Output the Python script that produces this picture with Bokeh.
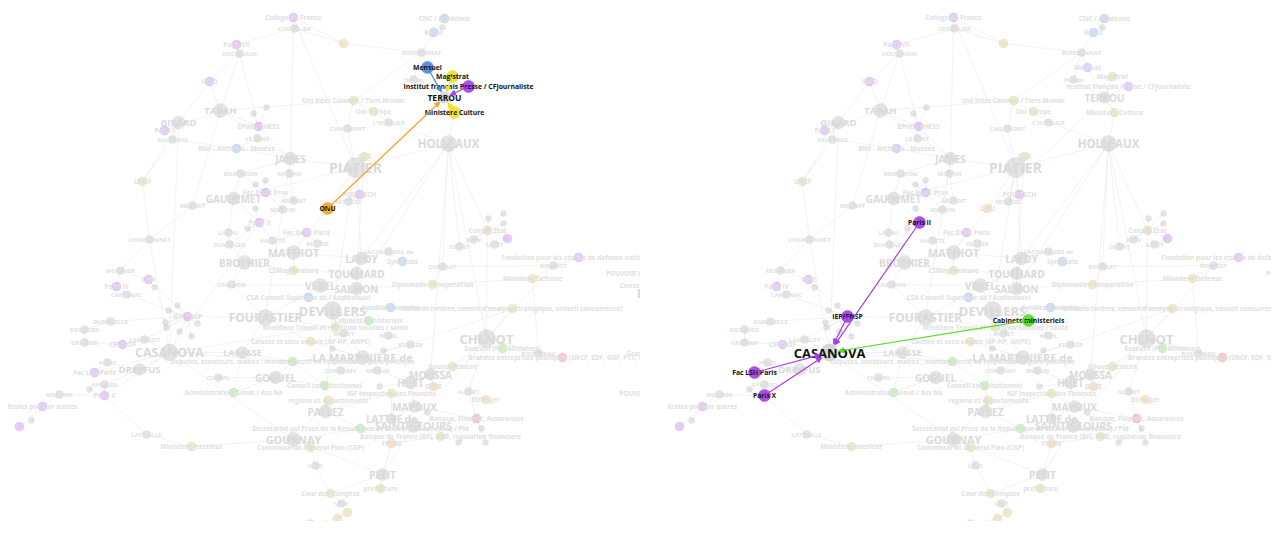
from bokeh.plotting import figure
from bokeh.layouts import row
from bokeh.models import ColumnDataSource, Range1d, Arrow, NormalHead
from bokeh.core.properties import value
from bokeh.embed import file_html
from bokeh.resources import INLINE

# ---------------- data: network layout (layout units) ----------------
big_people = ["TABAH", "GIRARD", "JAMES", "GAUDEMET", "MATHIOT", "BROCHIER", "PIATIER", "HOLLEAUX",
              "TERROU", "LALOY", "TOUCHARD", "VEDEL", "SALMON", "FOURASTIER", "DEVILLERS", "CASANOVA",
              "DREYFUS", "LABASSE", "GOGUEL", "LA MARTINIERE de", "CHENOT", "MOUSSA", "HUET", "PALLEZ",
              "MAYOUX", "LATTRE de", "SAINT-GEOURS", "GOURNAY", "PETIT"]
big_people_x = [220, 178, 290, 233, 293, 244, 355, 448, 444, 361, 356, 320, 356, 265, 332, 169,
                139, 242, 275, 362, 486, 430, 410, 325, 414, 391, 413, 293, 382]
big_people_y = [110, 122, 158, 198, 252, 262, 167, 143, 97, 258, 273, 285, 288, 317, 310, 352,
                369, 352, 377, 357, 338, 374, 382, 411, 406, 418, 425, 439, 474]
big_people_size = [14, 13, 13, 13, 14, 14, 20, 16, 11, 13, 13, 14, 13, 16, 18, 17,
                   12, 12, 13, 14, 18, 12, 13, 13, 12, 10, 14, 14, 12]
big_people_font = [9.5, 9.5, 10, 10, 11, 10, 14, 11.5, 10, 10, 10, 10, 10, 12, 13, 12.5,
                   9.5, 9, 10, 11, 13, 10, 10, 10, 10, 10, 10.5, 11, 10]

minor_people = ["CHEVALIER", "HOCQUAUX", "SAUVERAS", "LE GOFF", "MERCERON", "MOUAN", "MEYNAT", "ARDANT",
                "MAURIN", "LAVAU", "DUVERGER", "VALETTE", "REUTER", "CHARDONNET", "MONNIER", "CARSENAC",
                "DUROSELLE", "SIEGFRIED", "GROSSER", "LANCELOT", "PINET", "AYMARD", "MESNIER", "LATREILLE",
                "CHATAL", "GREMION", "BOISSONNAT", "Hebdo", "L'HUILLIER", "CHAUMONT", "MORAZE", "ODENT",
                "RAIN", "SAINT", "LACHARRIERE de", "DOUBLET", "BONNOT", "WAHL", "MORET", "KESSLER",
                "CONDAMY", "MERLIN", "ALBERT", "URIO", "VIOT", "BOUCHARD", "SERVAN"]
minor_people_x = [294, 239, 172, 257, 240, 289, 192, 293, 282, 228, 229, 272, 317, 149, 120, 126,
                  110, 84, 84, 144, 107, 104, 59, 146, 218, 231, 421, 413, 388, 347, 348, 459,
                  473, 494, 388, 442, 553, 388, 343, 410, 340, 377, 468, 315, 341, 538, 310]
minor_people_y = [28, 53, 139, 138, 173, 173, 205, 200, 209, 232, 244, 240, 243, 239, 270, 294,
                  321, 329, 342, 339, 362, 384, 394, 434, 377, 284, 52, 79, 122, 128, 201, 246,
                  239, 244, 251, 266, 265, 335, 333, 344, 370, 370, 391, 465, 503, 353, 523]

inst_ids = ["COLLEGE", "PARIS7", "INED", "PARIS1", "EPHE", "FDPROV", "PARIS2", "FDPARIS", "POLYT", "IFP",
            "PU1", "FOND", "CERI", "PARIS4", "IEP", "CEVIPOF", "FACLSH", "PARIS10", "ECOLES", "PU2", "SCIPO",
            "CNC", "RADIO", "MENSUEL", "BNF", "SYND1", "CSA", "SYND2",
            "A1", "UIC", "UE", "MAGIS", "MCULT", "IRSE", "UNEF", "CE", "CSM", "DIPLO", "MDEF", "CONS",
            "MTRAV", "CAISSE", "GOUV", "IGF", "REG", "BDF", "CGP", "MINT", "PREF", "COUR", "A2", "A3",
            "DEP", "ADM", "CC", "CAB", "SGG", "EXEC",
            "ONU", "DGSE", "ETR", "FITEM", "GEP", "BFA"]
inst_labels = ["College de France", "Paris VII", "INED", "Paris I", "EPHE / EHESS", "Fac Droit Prov",
               "Paris II", "Fac Droit Paris", "POLYTECH", "Institut français Presse / CFJournaliste",
               "", "Fondation pour les etudes de defense nationale", "CERI", "Paris IV", "IEP/FNSP",
               "CEVIPOF", "Fac LSH Paris", "Paris X", "Ecoles pouvoir autres", "", "",
               "CNC / Académie", "Radio", "Mensuel", "BNF - Archives - Musées", "Syndicats",
               "CSA Conseil Supérieur de l'Audiovisuel", "Syndicats salariés",
               "", "Uni Inter Colonial / Tiers Monde", "Uni Europe", "Magistrat", "Ministere Culture",
               "IRSE", "UNEF", "Conseil Etat", "CSMagistrature", "Diplomatie / Cooperation",
               "Ministere Defense",
               "Conseils (ordres, conseil d'analyse stratégique, conseil concurrence)",
               "Ministere Travail et relations sociales / santé", "Caisses et secu sociale (AP-HP, ANPE)",
               "Gouvernement", "IGF Inspection des Finances", "regions et departements",
               "Banque de France (BF), COB, regulation financiere", "Commissariat General Plan (CGP)",
               "Ministere Interieur", "prefecture", "Cour des Comptes", "", "",
               "Deputes, senateurs, maires ; mandat electif ou responsables parti politique",
               "Administrateur Senat / Ass Na", "Conseil constitutionnel", "Cabinets ministeriels",
               "Secretariat gal Prsce de la Republique et Gouvernement (SGG) / PM",
               "Executif (Pdt-Ministres)",
               "ONU", "DGSE", "Etranger", "FITEM",
               "Grandes entreprises publiques (SNCF, EDF, GDF, PTT, SNI...)", "Banque, Finance, Assurances"]
inst_x = [293, 236, 209, 164, 258, 265, 259, 306, 359, 468, 507, 578, 148, 116, 187, 122, 94, 104, 42, 19, 307,
          444, 433, 427, 236, 402, 308, 390,
          343, 353, 373, 452, 454, 364, 142, 487, 293, 432, 532, 512, 335, 310, 452, 391, 328, 440, 310, 191,
          380, 330, 347, 337,
          292, 233, 324, 368, 360, 502,
          327, 433, 485, 391, 562, 476]
inst_y = [17, 44, 81, 130, 126, 192, 222, 232, 194, 86, 238, 257, 279, 286, 316, 344, 372, 395, 406, 426, 532,
          18, 32, 67, 148, 261, 297, 307,
          43, 100, 111, 76, 112, 156, 181, 230, 270, 284, 278, 308, 327, 341, 366, 393, 400, 436, 447, 446,
          488, 493, 512, 518,
          361, 392, 385, 320, 428, 348,
          208, 386, 399, 443, 357, 418]
inst_kind = ["univ"] * 21 + ["media"] * 7 + ["admin"] * 24 + ["pol"] * 6 + ["orange"] * 4 + ["red"] * 2

# unlabeled small nodes and the hub each hangs from
dot_x = [253, 266, 265, 255, 255, 247, 154, 177, 168, 165, 166, 179, 191, 197, 89, 31, 332, 383, 379,
         427, 481, 458, 485, 442, 503, 488, 503]
dot_y = [113, 107, 180, 184, 208, 228, 287, 305, 310, 322, 327, 331, 336, 323, 389, 420, 348, 350, 386,
         412, 428, 442, 442, 27, 213, 218, 223]
dot_anchor = ["EPHE", "EPHE", "FDPROV", "FDPROV", "PARIS2", "PARIS2", "CERI", "IEP", "IEP", "IEP", "IEP",
              "IEP", "IEP", "IEP", "PARIS10", "ECOLES", "LA MARTINIERE de", "KESSLER", "HUET", "MAYOUX",
              "BFA", "BFA", "BFA", "RADIO", "CE", "CE", "CE"]

# labels of nodes lying beyond the right edge of the view
outer_labels = ["POUVOIR UNIV. Publ, syndicats, presse", "Conseils, comites, hauts conseils", "BOURDIEU",
                "Grandes ecoles, corps techniques", "POUVOIR MEDIATIQUE"]
outer_x = [668, 672, 668, 680, 655]
outer_y = [273, 285, 293, 353, 393]
outer_font = [6.5, 6.5, 12, 6.5, 6.5]

links = [
    ("COLLEGE", "CHEVALIER"), ("CHEVALIER", "A1"), ("CHEVALIER", "PARIS7"), ("PARIS7", "HOCQUAUX"),
    ("HOCQUAUX", "INED"), ("HOCQUAUX", "TABAH"), ("HOCQUAUX", "EPHE"), ("INED", "TABAH"), ("INED", "GIRARD"),
    ("TABAH", "PARIS1"), ("TABAH", "EPHE"), ("TABAH", "JAMES"), ("GIRARD", "PARIS1"), ("GIRARD", "SAUVERAS"),
    ("SAUVERAS", "BNF"), ("SAUVERAS", "UNEF"), ("GIRARD", "UNEF"), ("EPHE", "LE GOFF"), ("LE GOFF", "BNF"),
    ("BNF", "JAMES"), ("EPHE", "JAMES"), ("JAMES", "MOUAN"), ("JAMES", "MERCERON"), ("JAMES", "PIATIER"),
    ("MERCERON", "GAUDEMET"), ("MERCERON", "FDPROV"), ("GAUDEMET", "FDPROV"), ("GAUDEMET", "PARIS2"),
    ("GAUDEMET", "MEYNAT"), ("MEYNAT", "CHARDONNET"), ("GAUDEMET", "LAVAU"), ("LAVAU", "DUVERGER"),
    ("DUVERGER", "PARIS2"), ("PARIS2", "VALETTE"), ("VALETTE", "FDPARIS"), ("FDPARIS", "REUTER"),
    ("FDPARIS", "MATHIOT"), ("MATHIOT", "BROCHIER"), ("BROCHIER", "DUVERGER"), ("BROCHIER", "GREMION"),
    ("BROCHIER", "CSM"), ("MATHIOT", "CSM"), ("MATHIOT", "LALOY"), ("ARDANT", "FDPROV"), ("MAURIN", "FDPROV"),
    ("MAURIN", "PARIS2"), ("ARDANT", "MOUAN"), ("PIATIER", "IRSE"), ("PIATIER", "POLYT"), ("PIATIER", "MORAZE"),
    ("MORAZE", "POLYT"), ("PIATIER", "CHAUMONT"), ("CHAUMONT", "UIC"), ("UIC", "UE"), ("UE", "L'HUILLIER"),
    ("L'HUILLIER", "HOLLEAUX"), ("UIC", "BOISSONNAT"), ("UIC", "TABAH"), ("A1", "BOISSONNAT"), ("A1", "COLLEGE"),
    ("BOISSONNAT", "RADIO"), ("RADIO", "CNC"), ("BOISSONNAT", "MENSUEL"), ("Hebdo", "BOISSONNAT"),
    ("Hebdo", "TERROU"), ("TERROU", "MENSUEL"), ("TERROU", "MAGIS"), ("TERROU", "IFP"), ("TERROU", "MCULT"),
    ("TERROU", "ONU"), ("MCULT", "HOLLEAUX"), ("HOLLEAUX", "LALOY"), ("HOLLEAUX", "CE"), ("HOLLEAUX", "ODENT"),
    ("HOLLEAUX", "DOUBLET"), ("HOLLEAUX", "PIATIER"), ("HOLLEAUX", "SALMON"), ("CE", "ODENT"), ("CE", "RAIN"),
    ("CE", "SAINT"), ("CE", "PU1"), ("PU1", "SAINT"), ("LALOY", "LACHARRIERE de"), ("LACHARRIERE de", "SYND1"),
    ("LALOY", "TOUCHARD"), ("TOUCHARD", "SALMON"), ("TOUCHARD", "CSM"), ("TOUCHARD", "VEDEL"), ("VEDEL", "CSA"),
    ("VEDEL", "GREMION"), ("VEDEL", "DEVILLERS"), ("VEDEL", "FOURASTIER"), ("SALMON", "DIPLO"),
    ("SALMON", "DEVILLERS"), ("DIPLO", "DOUBLET"), ("DIPLO", "MDEF"), ("MDEF", "BONNOT"), ("BONNOT", "FOND"),
    ("BONNOT", "DOUBLET"), ("DEVILLERS", "CAB"), ("DEVILLERS", "MTRAV"), ("DEVILLERS", "SYND2"),
    ("SYND2", "CONS"), ("CONS", "CHENOT"), ("CONS", "KESSLER"), ("CAB", "WAHL"), ("CAB", "MORET"),
    ("MTRAV", "FOURASTIER"), ("FOURASTIER", "CAISSE"), ("FOURASTIER", "LABASSE"), ("FOURASTIER", "GREMION"),
    ("FOURASTIER", "IEP"), ("CAISSE", "LA MARTINIERE de"), ("KESSLER", "LA MARTINIERE de"),
    ("LA MARTINIERE de", "CONDAMY"), ("LA MARTINIERE de", "MERLIN"), ("LA MARTINIERE de", "DEP"),
    ("DEP", "CASANOVA"), ("DEP", "LABASSE"), ("DEP", "GOGUEL"), ("DEP", "CC"), ("GOGUEL", "CHATAL"),
    ("GOGUEL", "ADM"), ("GOGUEL", "CC"), ("CC", "PALLEZ"), ("PALLEZ", "REG"), ("PALLEZ", "IGF"), ("PALLEZ", "SGG"),
    ("REG", "GOURNAY"), ("SGG", "GOURNAY"), ("GOURNAY", "CGP"), ("CGP", "URIO"), ("URIO", "COUR"),
    ("COUR", "VIOT"), ("VIOT", "A2"), ("A2", "A3"), ("A3", "SERVAN"), ("SERVAN", "SCIPO"), ("COUR", "PETIT"),
    ("PETIT", "PREF"), ("PETIT", "SAINT-GEOURS"), ("PETIT", "FITEM"), ("SAINT-GEOURS", "BDF"),
    ("SAINT-GEOURS", "LATTRE de"), ("SAINT-GEOURS", "SGG"), ("LATTRE de", "IGF"), ("LATTRE de", "MAYOUX"),
    ("MAYOUX", "IGF"), ("MAYOUX", "BFA"), ("MAYOUX", "HUET"), ("HUET", "MERLIN"), ("HUET", "MOUSSA"),
    ("MOUSSA", "DGSE"), ("MOUSSA", "GOUV"), ("GOUV", "CHENOT"), ("CHENOT", "EXEC"), ("CHENOT", "GEP"),
    ("CHENOT", "BOUCHARD"), ("BOUCHARD", "GEP"), ("BOUCHARD", "MDEF"), ("ALBERT", "ETR"), ("ALBERT", "CHENOT"),
    ("ALBERT", "BFA"), ("BFA", "BDF"), ("BDF", "FITEM"), ("CASANOVA", "IEP"), ("CASANOVA", "PARIS2"),
    ("CASANOVA", "FACLSH"), ("CASANOVA", "PARIS10"), ("CASANOVA", "CAB"), ("CASANOVA", "LANCELOT"),
    ("CASANOVA", "DREYFUS"), ("DREYFUS", "FACLSH"), ("DREYFUS", "PINET"), ("DREYFUS", "AYMARD"),
    ("AYMARD", "PARIS10"), ("PINET", "FACLSH"), ("IEP", "CARSENAC"), ("IEP", "DUROSELLE"),
    ("DUROSELLE", "SIEGFRIED"), ("SIEGFRIED", "GROSSER"), ("GROSSER", "CEVIPOF"), ("CEVIPOF", "LANCELOT"),
    ("CARSENAC", "PARIS4"), ("PARIS4", "MONNIER"), ("MONNIER", "CERI"), ("CERI", "IEP"), ("MONNIER", "CHARDONNET"),
    ("CHARDONNET", "UNEF"), ("MESNIER", "ECOLES"), ("ECOLES", "PU2"), ("MESNIER", "PARIS10"),
    ("LATREILLE", "PARIS10"), ("LATREILLE", "MINT"), ("MINT", "GOURNAY"), ("ADM", "LABASSE"),
    ("CASANOVA", "LABASSE"), ("LANCELOT", "IEP"), ("COLLEGE", "JAMES"), ("COLLEGE", "PIATIER"),
    ("HOLLEAUX", "CHENOT"), ("PIATIER", "LALOY"), ("PIATIER", "DEVILLERS"), ("GIRARD", "CASANOVA"),
    ("TABAH", "MEYNAT"), ("JAMES", "FOURASTIER"), ("PIATIER", "GAUDEMET"), ("IRSE", "TOUCHARD"),
    ("ONU", "MATHIOT"), ("ONU", "PIATIER"), ("DEVILLERS", "LA MARTINIERE de"), ("CHENOT", "MAYOUX"),
    ("CHENOT", "SAINT-GEOURS"), ("GOURNAY", "PETIT"), ("CASANOVA", "GOURNAY"), ("CHARDONNET", "CASANOVA"),
    ("HOLLEAUX", "MOUSSA"), ("BONNOT", "CHENOT"), ("CE", "CHENOT"), ("DEVILLERS", "PALLEZ"),
]

# ---------------- styling ----------------
FADE = {"gray": "#a3a3a3", "univ": "#a64ce6", "media": "#5a86e0", "admin": "#c4b24e",
        "pol": "#58c83a", "orange": "#e8a04a", "red": "#d44a4a"}
HI = {"gray": "#d4d4d4", "univ": "#a53fe8", "media": "#4f86e6", "admin": "#f0e126",
      "pol": "#55dd22", "orange": "#f3a42a", "red": "#d43a3a"}
FONT = value("Open Sans")

# ---------------- assemble node table ----------------
nid, nlab, nx, ny, nkind, nsize, nfont = [], [], [], [], [], [], []
for i, n in enumerate(big_people):
    nid.append(n); nlab.append(n); nx.append(big_people_x[i]); ny.append(big_people_y[i])
    nkind.append("gray"); nsize.append(big_people_size[i]); nfont.append(big_people_font[i])
for i, n in enumerate(minor_people):
    nid.append(n); nlab.append(n); nx.append(minor_people_x[i]); ny.append(minor_people_y[i])
    nkind.append("gray"); nsize.append(8); nfont.append(6)
for i, n in enumerate(inst_ids):
    nid.append(n); nlab.append(inst_labels[i]); nx.append(inst_x[i]); ny.append(inst_y[i])
    nkind.append(inst_kind[i]); nsize.append(9); nfont.append(6.5)
for i in range(len(dot_x)):
    nid.append("dot%d" % i); nlab.append(""); nx.append(dot_x[i]); ny.append(dot_y[i])
    nkind.append("gray"); nsize.append(6); nfont.append(6)
all_links = list(links) + [("dot%d" % i, a) for i, a in enumerate(dot_anchor)]
idx = {n: i for i, n in enumerate(nid)}


def panel(x0, x1, width, focus, neigh, focus_font):
    p = figure(width=width, height=521, x_range=Range1d(x0, x1), y_range=Range1d(521, 0),
               output_backend="svg", toolbar_location=None, min_border=0)
    p.axis.visible = False
    p.grid.visible = False
    p.outline_line_color = None
    p.background_fill_color = "white"
    p.border_fill_color = "white"

    # faded edges
    es = dict(x0=[], y0=[], x1=[], y1=[])
    for a, b in all_links:
        ia, ib = idx[a], idx[b]
        es["x0"].append(nx[ia]); es["y0"].append(ny[ia]); es["x1"].append(nx[ib]); es["y1"].append(ny[ib])
    p.segment("x0", "y0", "x1", "y1", source=ColumnDataSource(es), line_color="#efefef", line_width=0.8)

    # faded nodes
    hs = set(neigh) | {focus}
    ns = dict(x=nx, y=ny, s=nsize, c=[FADE[k] for k in nkind])
    p.scatter("x", "y", size="s", source=ColumnDataSource(ns), fill_color="c", fill_alpha=0.28,
              line_color="c", line_alpha=0.12)

    # faded labels
    bs = dict(x=[], y=[], t=[], f=[])
    ss = dict(x=[], y=[], t=[], f=[])
    for i in range(len(nid)):
        if nlab[i] and nid[i] not in hs:
            d = bs if nfont[i] >= 9 else ss
            d["x"].append(nx[i]); d["y"].append(ny[i]); d["t"].append(nlab[i])
            d["f"].append("%gpx" % nfont[i])
    for i in range(len(outer_labels)):
        d = bs if outer_font[i] >= 9 else ss
        d["x"].append(outer_x[i]); d["y"].append(outer_y[i]); d["t"].append(outer_labels[i])
        d["f"].append("%gpx" % outer_font[i])
    p.text("x", "y", text="t", source=ColumnDataSource(bs), text_font=FONT, text_font_size="f",
           text_font_style="bold", text_color="#dadada", text_align="center", text_baseline="middle")
    p.text("x", "y", text="t", source=ColumnDataSource(ss), text_font=FONT, text_font_size="f",
           text_font_style="bold", text_color="#e0e0e0", text_align="center", text_baseline="middle")

    # highlighted edges (neighbour -> focus)
    fi = idx[focus]
    fr = nsize[fi] / 2.0 + 1
    for n in neigh:
        i = idx[n]
        c = HI[nkind[i]]
        dx, dy = nx[fi] - nx[i], ny[fi] - ny[i]
        d = (dx * dx + dy * dy) ** 0.5
        src = ColumnDataSource(dict(xs=[nx[i]], ys=[ny[i]], xe=[nx[fi] - dx / d * fr], ye=[ny[fi] - dy / d * fr]))
        p.add_layout(Arrow(end=NormalHead(size=5, fill_color=c, line_color=c), x_start="xs", y_start="ys",
                           x_end="xe", y_end="ye", source=src, line_color=c, line_width=1.2))

    # highlighted nodes
    hx = [nx[idx[n]] for n in neigh] + [nx[fi]]
    hy = [ny[idx[n]] for n in neigh] + [ny[fi]]
    hc = [HI[nkind[idx[n]]] for n in neigh] + ["#d6d6d6"]
    hsz = [12] * len(neigh) + [nsize[fi]]
    p.scatter(hx, hy, size=hsz, fill_color=hc, line_color=hc, fill_alpha=0.9, line_alpha=0.6)

    # highlighted labels
    p.text([nx[idx[n]] for n in neigh], [ny[idx[n]] for n in neigh], text=[nlab[idx[n]] for n in neigh],
           text_font=FONT, text_font_size="6.8px", text_font_style="bold", text_color="#111111",
           text_align="center", text_baseline="middle")
    p.text([nx[fi]], [ny[fi]], text=[nlab[fi]], text_font=FONT, text_font_size=focus_font,
           text_font_style="bold", text_color="#111111", text_align="center", text_baseline="middle")
    return p


left = panel(0, 640, 640, "TERROU", ["MENSUEL", "MAGIS", "IFP", "MCULT", "ONU"], "8.5px")
right = panel(-20, 611, 631, "CASANOVA", ["PARIS2", "IEP", "FACLSH", "PARIS10", "CAB"], "13px")

layout = row(left, right, spacing=0)
open("out.html", "w").write(file_html(layout, INLINE))
